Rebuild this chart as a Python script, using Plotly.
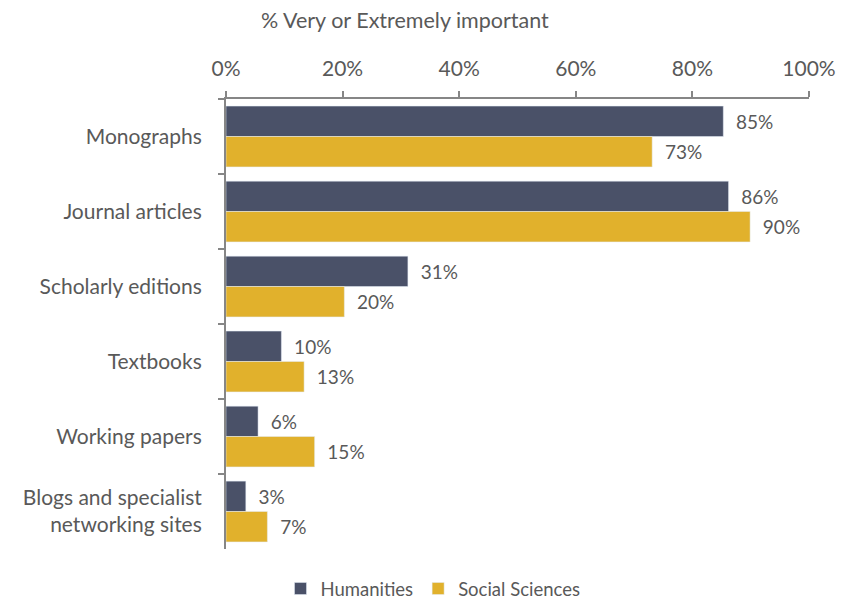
import plotly.graph_objects as go

# data
categories = ["Monographs", "Journal articles", "Scholarly editions",
              "Textbooks", "Working papers",
              "Blogs and specialist<br>networking sites"]
humanities = [85.3, 86.2, 31.2, 9.5, 5.5, 3.4]
social_sciences = [73.1, 89.9, 20.3, 13.4, 15.2, 7.1]

text_color = "#595959"
axis_color = "#868686"

fig = go.Figure()
fig.add_trace(go.Bar(y=categories, x=humanities, name="Humanities", orientation="h",
                     marker_color="#4A5168", texttemplate="  %{x:.0f}%",
                     textposition="outside", cliponaxis=False,
                     textfont=dict(size=19, color=text_color)))
fig.add_trace(go.Bar(y=categories, x=social_sciences, name="Social Sciences", orientation="h",
                     marker_color="#E1B12C", texttemplate="  %{x:.0f}%",
                     textposition="outside", cliponaxis=False,
                     textfont=dict(size=19, color=text_color)))

# page body adds an 8px offset, so margins are shifted accordingly
fig.update_layout(
    width=852, height=601,
    barmode="group", bargap=0.19, bargroupgap=0,
    plot_bgcolor="white", paper_bgcolor="white",
    font=dict(family="Lato", size=21, color=text_color),
    margin=dict(l=218, r=51, t=91, b=60, autoexpand=False),
    legend=dict(orientation="h", x=(425 - 218) / 583, xanchor="center",
                y=-(581 - 541) / 450, yanchor="middle",
                font=dict(size=18.5), itemwidth=30, traceorder="normal"),
    annotations=[dict(text="% Very or Extremely important", xref="paper", yref="paper",
                      x=(251 - 218) / 583, y=1 + (91 - 12) / 450, xanchor="left",
                      yanchor="middle", showarrow=False,
                      font=dict(size=21.5, color=text_color))],
)
fig.update_xaxes(side="top", range=[0, 100], dtick=20, ticksuffix="%", automargin=False,
                 showgrid=False, zeroline=False, showline=True, linecolor=axis_color,
                 linewidth=2, ticks="outside", ticklen=6, tickcolor=axis_color, tickwidth=2,
                 ticklabelstandoff=7)
fig.update_yaxes(autorange="reversed", showgrid=False, showline=True, linecolor=axis_color,
                 linewidth=2, ticks="outside", ticklen=6, tickcolor=axis_color, tickwidth=2,
                 tickson="boundaries", ticklabelstandoff=18, automargin=False)

fig.write_html("out.html")
